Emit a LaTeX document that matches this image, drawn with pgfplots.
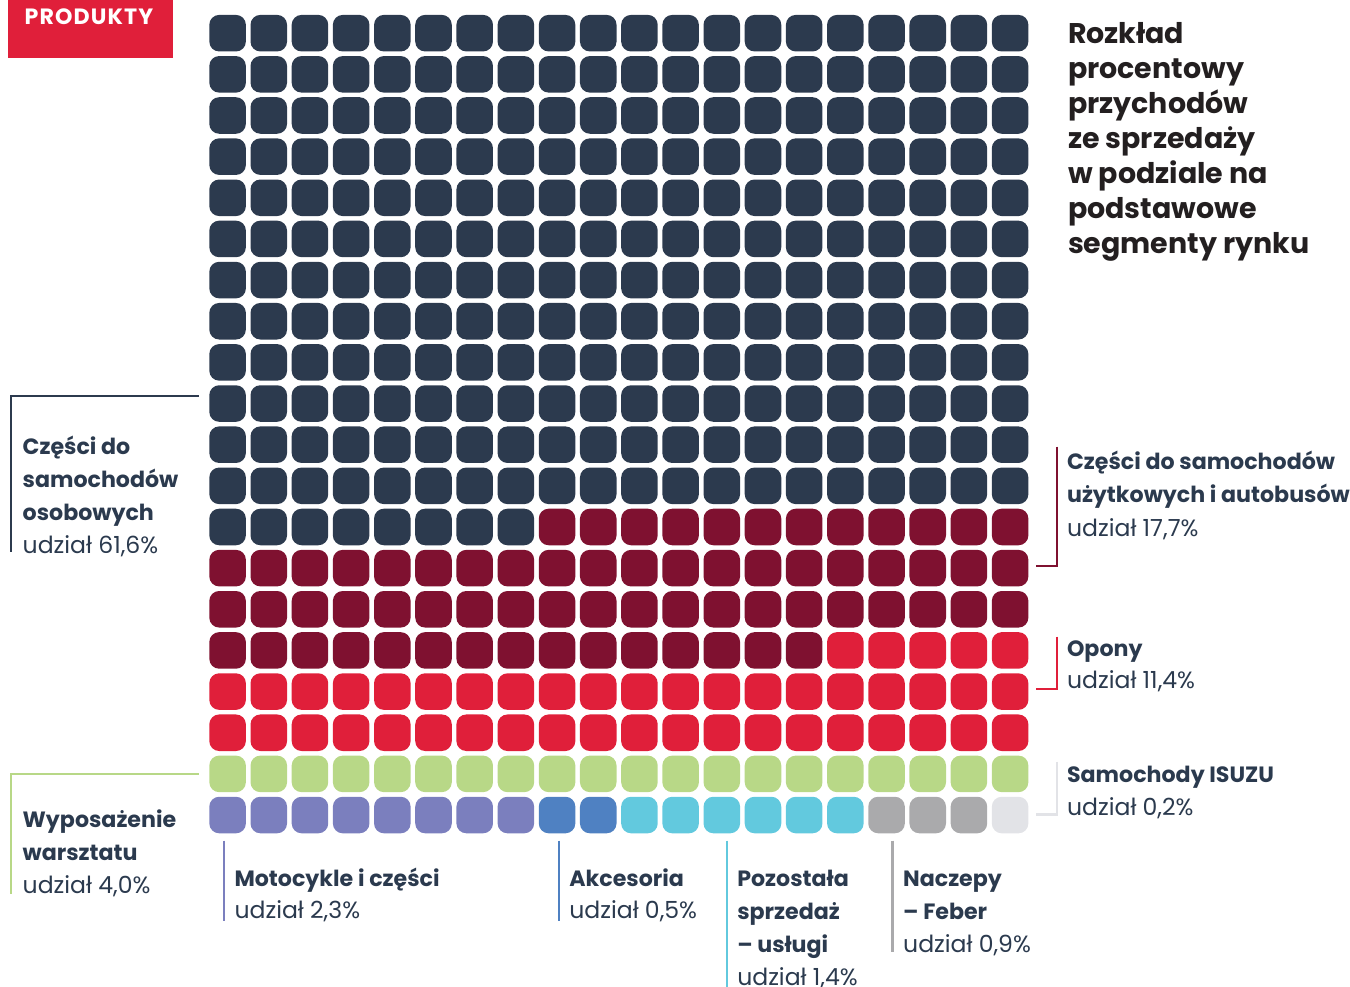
\documentclass[border=0pt]{standalone}
\usepackage{pgfplots}
\pgfplotsset{compat=1.18}
\usepackage{fontspec}
\setmainfont{Poppins}

\definecolor{navy}{HTML}{2C3A4E}
\definecolor{maroon}{HTML}{7F1130}
\definecolor{tyre}{HTML}{E01F3A}
\definecolor{leaf}{HTML}{B8D887}
\definecolor{lav}{HTML}{7B7FBE}
\definecolor{acc}{HTML}{4F81C2}
\definecolor{cyanx}{HTML}{62C9DE}
\definecolor{grayx}{HTML}{AAAAAC}
\definecolor{lgray}{HTML}{E2E3E7}
\definecolor{txt}{HTML}{2B3A4E}
\definecolor{ttl}{HTML}{231F20}

% rounded square mark built from lines and arcs
\pgfdeclareplotmark{rsq}{%
  \pgfpathmoveto{\pgfpoint{-0.46\pgfplotmarksize}{-\pgfplotmarksize}}%
  \pgfpathlineto{\pgfpoint{0.46\pgfplotmarksize}{-\pgfplotmarksize}}%
  \pgfpatharc{270}{360}{0.54\pgfplotmarksize}%
  \pgfpathlineto{\pgfpoint{\pgfplotmarksize}{0.46\pgfplotmarksize}}%
  \pgfpatharc{0}{90}{0.54\pgfplotmarksize}%
  \pgfpathlineto{\pgfpoint{-0.46\pgfplotmarksize}{\pgfplotmarksize}}%
  \pgfpatharc{90}{180}{0.54\pgfplotmarksize}%
  \pgfpathlineto{\pgfpoint{-\pgfplotmarksize}{-0.46\pgfplotmarksize}}%
  \pgfpatharc{180}{270}{0.54\pgfplotmarksize}%
  \pgfpathclose
  \pgfusepathqfill}
\pgfplotsset{waf/.style={only marks, mark=rsq, mark size=5.2pt, color=#1}}

\tikzset{
  lab/.style={anchor=base west, inner sep=0pt, text=txt, font=\fontsize{6.7pt}{9.4pt}\selectfont},
  labb/.style={lab, font=\bfseries\fontsize{6.3pt}{9.4pt}\selectfont},
  ttl/.style={anchor=base west, inner sep=0pt, text=ttl, font=\bfseries\fontsize{8.1pt}{9.96pt}\selectfont},
}

\begin{document}
\begin{tikzpicture}
\path[use as bounding box] (0,0) rectangle (13.5cm,-9.87cm);
\begin{axis}[at={(2.07cm,-8.356cm)}, anchor=south west, scale only axis,
  width=8.237cm, height=8.23cm, hide axis, clip=false,
  xmin=0.5, xmax=20.5, ymin=0.5, ymax=20.5]
% Części do samochodów osobowych
\addplot[waf=navy] coordinates {
(1,20)(2,20)(3,20)(4,20)(5,20)(6,20)(7,20)(8,20)(9,20)(10,20)(11,20)(12,20)(13,20)(14,20)(15,20)(16,20)(17,20)(18,20)(19,20)(20,20)
(1,19)(2,19)(3,19)(4,19)(5,19)(6,19)(7,19)(8,19)(9,19)(10,19)(11,19)(12,19)(13,19)(14,19)(15,19)(16,19)(17,19)(18,19)(19,19)(20,19)
(1,18)(2,18)(3,18)(4,18)(5,18)(6,18)(7,18)(8,18)(9,18)(10,18)(11,18)(12,18)(13,18)(14,18)(15,18)(16,18)(17,18)(18,18)(19,18)(20,18)
(1,17)(2,17)(3,17)(4,17)(5,17)(6,17)(7,17)(8,17)(9,17)(10,17)(11,17)(12,17)(13,17)(14,17)(15,17)(16,17)(17,17)(18,17)(19,17)(20,17)
(1,16)(2,16)(3,16)(4,16)(5,16)(6,16)(7,16)(8,16)(9,16)(10,16)(11,16)(12,16)(13,16)(14,16)(15,16)(16,16)(17,16)(18,16)(19,16)(20,16)
(1,15)(2,15)(3,15)(4,15)(5,15)(6,15)(7,15)(8,15)(9,15)(10,15)(11,15)(12,15)(13,15)(14,15)(15,15)(16,15)(17,15)(18,15)(19,15)(20,15)
(1,14)(2,14)(3,14)(4,14)(5,14)(6,14)(7,14)(8,14)(9,14)(10,14)(11,14)(12,14)(13,14)(14,14)(15,14)(16,14)(17,14)(18,14)(19,14)(20,14)
(1,13)(2,13)(3,13)(4,13)(5,13)(6,13)(7,13)(8,13)(9,13)(10,13)(11,13)(12,13)(13,13)(14,13)(15,13)(16,13)(17,13)(18,13)(19,13)(20,13)
(1,12)(2,12)(3,12)(4,12)(5,12)(6,12)(7,12)(8,12)(9,12)(10,12)(11,12)(12,12)(13,12)(14,12)(15,12)(16,12)(17,12)(18,12)(19,12)(20,12)
(1,11)(2,11)(3,11)(4,11)(5,11)(6,11)(7,11)(8,11)(9,11)(10,11)(11,11)(12,11)(13,11)(14,11)(15,11)(16,11)(17,11)(18,11)(19,11)(20,11)
(1,10)(2,10)(3,10)(4,10)(5,10)(6,10)(7,10)(8,10)(9,10)(10,10)(11,10)(12,10)(13,10)(14,10)(15,10)(16,10)(17,10)(18,10)(19,10)(20,10)
(1,9)(2,9)(3,9)(4,9)(5,9)(6,9)(7,9)(8,9)(9,9)(10,9)(11,9)(12,9)(13,9)(14,9)(15,9)(16,9)(17,9)(18,9)(19,9)(20,9)
(1,8)(2,8)(3,8)(4,8)(5,8)(6,8)(7,8)(8,8)
};
% Części do samochodów użytkowych i autobusów
\addplot[waf=maroon] coordinates {
(9,8)(10,8)(11,8)(12,8)(13,8)(14,8)(15,8)(16,8)(17,8)(18,8)(19,8)(20,8)
(1,7)(2,7)(3,7)(4,7)(5,7)(6,7)(7,7)(8,7)(9,7)(10,7)(11,7)(12,7)(13,7)(14,7)(15,7)(16,7)(17,7)(18,7)(19,7)(20,7)
(1,6)(2,6)(3,6)(4,6)(5,6)(6,6)(7,6)(8,6)(9,6)(10,6)(11,6)(12,6)(13,6)(14,6)(15,6)(16,6)(17,6)(18,6)(19,6)(20,6)
(1,5)(2,5)(3,5)(4,5)(5,5)(6,5)(7,5)(8,5)(9,5)(10,5)(11,5)(12,5)(13,5)(14,5)(15,5)
};
% Opony
\addplot[waf=tyre] coordinates {
(16,5)(17,5)(18,5)(19,5)(20,5)
(1,4)(2,4)(3,4)(4,4)(5,4)(6,4)(7,4)(8,4)(9,4)(10,4)(11,4)(12,4)(13,4)(14,4)(15,4)(16,4)(17,4)(18,4)(19,4)(20,4)
(1,3)(2,3)(3,3)(4,3)(5,3)(6,3)(7,3)(8,3)(9,3)(10,3)(11,3)(12,3)(13,3)(14,3)(15,3)(16,3)(17,3)(18,3)(19,3)(20,3)
};
% Wyposażenie warsztatu
\addplot[waf=leaf] coordinates {
(1,2)(2,2)(3,2)(4,2)(5,2)(6,2)(7,2)(8,2)(9,2)(10,2)(11,2)(12,2)(13,2)(14,2)(15,2)(16,2)(17,2)(18,2)(19,2)(20,2)
};
% Motocykle i części
\addplot[waf=lav] coordinates {(1,1)(2,1)(3,1)(4,1)(5,1)(6,1)(7,1)(8,1)};
% Akcesoria
\addplot[waf=acc] coordinates {(9,1)(10,1)};
% Pozostała sprzedaż
\addplot[waf=cyanx] coordinates {(11,1)(12,1)(13,1)(14,1)(15,1)(16,1)};
% Naczepy
\addplot[waf=grayx] coordinates {(17,1)(18,1)(19,1)};
% Samochody ISUZU
\addplot[waf=lgray] coordinates {(20,1)};
\end{axis}

\begin{scope}[x=0.01cm, y=-0.01cm]
% badge
\fill[tyre] (8,0) rectangle (173,58);
\node[anchor=base west, inner sep=0pt, text=white, font=\bfseries\fontsize{6.3pt}{7pt}\selectfont\addfontfeatures{LetterSpace=5}] at (24,25) {PRODUKTY};
% title
\node[ttl] at (1068,43.5) {Rozkład};
\node[ttl] at (1068,78.5) {procentowy};
\node[ttl] at (1068,113.5) {przychodów};
\node[ttl] at (1068,148.5) {ze sprzedaży};
\node[ttl] at (1068,183.5) {w podziale na};
\node[ttl] at (1068,218.5) {podstawowe};
\node[ttl] at (1068,253.5) {segmenty rynku};
% brackets
\draw[navy, line width=0.6pt] (199,396) -- (11,396) -- (11,552);
\draw[maroon, line width=0.6pt] (1058,447) -- (1058,566) -- (1037,566);
\draw[tyre, line width=0.6pt] (1058,637) -- (1058,689) -- (1037,689);
\draw[lgray, line width=0.6pt] (1058,762) -- (1058,815) -- (1037,815);
\draw[leaf, line width=0.6pt] (199,774) -- (11,774) -- (11,895);
\draw[lav, line width=0.6pt] (224,841) -- (224,922);
\draw[acc, line width=0.6pt] (559,841) -- (559,922);
\draw[cyanx, line width=0.6pt] (727,841) -- (727,990);
\draw[grayx, line width=0.6pt] (893,841) -- (893,953);
% labels
\node[labb] at (22,455) {Części do};
\node[labb] at (22,488) {samochodów};
\node[labb] at (22,521) {osobowych};
\node[lab] at (22,554) {udział 61,6\%};
\node[labb] at (1067,470) {Części do samochodów};
\node[labb] at (1067,503) {użytkowych i autobusów};
\node[lab] at (1067,537) {udział 17,7\%};
\node[labb] at (1067,657) {Opony};
\node[lab] at (1067,689) {udział 11,4\%};
\node[labb] at (1067,783) {Samochody ISUZU};
\node[lab] at (1067,816) {udział 0,2\%};
\node[labb] at (22,828) {Wyposażenie};
\node[labb] at (22,861) {warsztatu};
\node[lab] at (22,894) {udział 4,0\%};
\node[labb] at (234,887) {Motocykle i części};
\node[lab] at (234,919) {udział 2,3\%};
\node[labb] at (569,887) {Akcesoria};
\node[lab] at (569,919) {udział 0,5\%};
\node[labb] at (737,887) {Pozostała};
\node[labb] at (737,920) {sprzedaż};
\node[labb] at (737,953) {– usługi};
\node[lab] at (737,986) {udział 1,4\%};
\node[labb] at (903,887) {Naczepy};
\node[labb] at (903,920) {– Feber};
\node[lab] at (903,953) {udział 0,9\%};
\end{scope}
\end{tikzpicture}
\end{document}
